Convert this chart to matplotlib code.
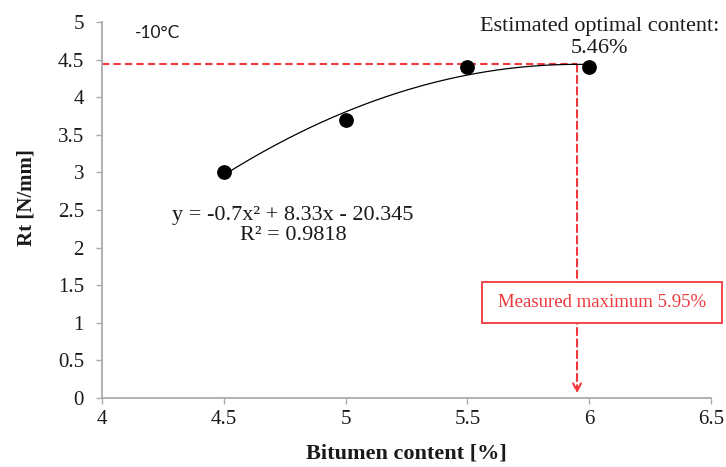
import numpy as np
import matplotlib
matplotlib.use("Agg")
import matplotlib.pyplot as plt
from matplotlib.patches import Rectangle

# Indirect tensile strength at -10 °C versus bitumen content
bitumen = [4.5, 5.0, 5.5, 6.0]
rt = [3.0, 3.7, 4.4, 4.4]

# Second-order trendline coefficients and fit quality
coef = [-0.7, 8.33, -20.345]
r2 = 0.9818
x_max = 5.95          # vertex of the fitted parabola
x_opt_label = 5.46    # stated optimal content

x_ticks = [4, 4.5, 5, 5.5, 6, 6.5]
y_ticks = [0, 0.5, 1, 1.5, 2, 2.5, 3, 3.5, 4, 4.5, 5]

serif = ["Liberation Serif", "DejaVu Serif"]
red = "#F0383C"
axis_grey = "#ABABAB"
ink = "#1A1A1A"

fig = plt.figure(figsize=(7.26, 4.67), dpi=100)
ax = fig.add_axes([102 / 726, 69 / 467, 609 / 726, 376 / 467])

ax.set_xlim(4, 6.5)
ax.set_ylim(0, 5)
ax.set_xticks(x_ticks)
ax.set_yticks(y_ticks)
ax.set_xticklabels([f"{v:g}" for v in x_ticks], family=serif, fontsize=15)
ax.set_yticklabels([f"{v:g}" for v in y_ticks], family=serif, fontsize=15)

for s in ("top", "right"):
    ax.spines[s].set_visible(False)
for s in ("left", "bottom"):
    ax.spines[s].set_color(axis_grey)
    ax.spines[s].set_linewidth(1.3)
ax.tick_params(axis="both", direction="out", length=4.5, width=1.0,
               color=axis_grey, labelcolor=ink)
ax.tick_params(axis="x", pad=4)
ax.tick_params(axis="y", pad=8.5)

# Trendline over the measured range
xs = np.linspace(min(bitumen), max(bitumen), 200)
ax.plot(xs, np.polyval(coef, xs), color="black", lw=0.9, zorder=3)

# Measurements
ax.plot(bitumen, rt, "o", color="black", markersize=9.6, zorder=4)

# Dashed guides to the maximum of the fitted curve
dash = (0, (3.5, 2))
y_peak = np.polyval(coef, x_max)
ax.plot([4, x_max], [y_peak, y_peak], ls=dash, color=red, lw=1.5,
        zorder=2, clip_on=False)
ax.annotate("", xy=(x_max, 0.06), xytext=(x_max, y_peak),
            arrowprops=dict(arrowstyle="->", color=red, lw=1.5,
                            linestyle=dash, shrinkA=0, shrinkB=0,
                            mutation_scale=14),
            zorder=2)

# Boxed note on the measured maximum
ax.add_patch(Rectangle((0.624, 0.1995), 0.394, 0.109, transform=ax.transAxes,
                       facecolor="white", edgecolor=red, lw=1.3,
                       clip_on=False, zorder=5))
ax.text(0.821, 0.254, f"Measured maximum {x_max:.2f}%", transform=ax.transAxes,
        family=serif, fontsize=13.5, color=red, ha="center", va="center",
        zorder=6)

ax.text(6.044, 4.52, f"Estimated optimal content:\n{x_opt_label:.2f}%",
        family=serif, fontsize=16, ha="center", va="bottom",
        linespacing=1.2, color=ink)

eq = (f"y = {coef[0]:g}x\u00b2 + {coef[1]:g}x - {abs(coef[2]):g}\n"
      f"R\u00b2 = {r2:g}")
ax.text(4.784, 2.29, eq, family=serif, fontsize=16, ha="center",
        va="center", linespacing=1.1, color=ink)

ax.text(4.135, 4.85, "-10°C", family=["Lato", "DejaVu Sans"], fontsize=12.5,
        ha="left", va="center", color=ink)

ax.set_xlabel("Bitumen content [%]", family=serif, fontsize=16,
              fontweight="bold", color=ink)
ax.set_ylabel("Rt [N/mm]", family=serif, fontsize=15,
              fontweight="bold", color=ink)
ax.xaxis.set_label_coords(0.5, -0.122)
ax.yaxis.set_label_coords(-0.108, 0.532)

fig.savefig("out.png", dpi=100)
